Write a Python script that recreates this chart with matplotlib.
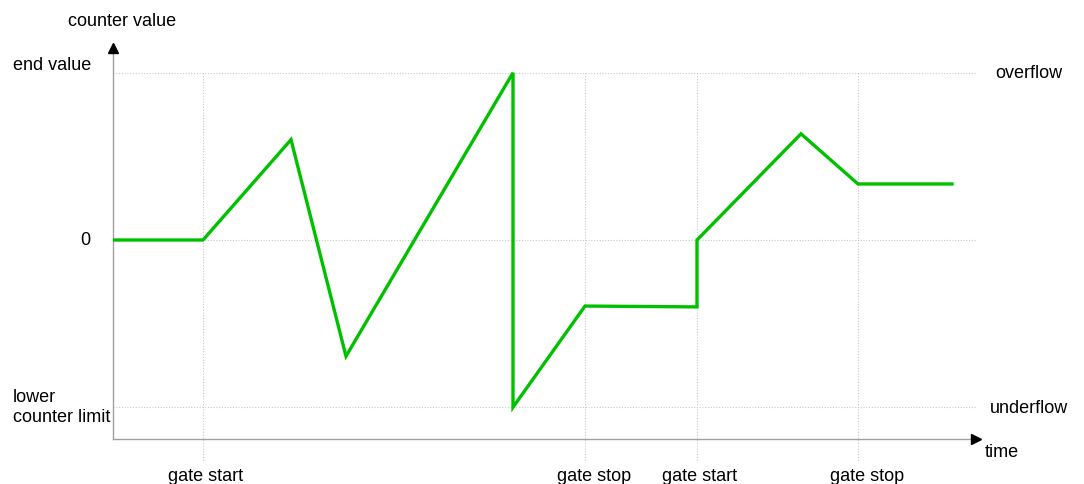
import matplotlib.pyplot as plt

plt.rcParams['font.family'] = ['Liberation Sans', 'DejaVu Sans']

# counter course over time (time in arbitrary units, value normalised to limits)
t = [0, 9.0, 17.8, 23.3, 40.0, 40.0, 47.2, 58.4, 58.4, 68.8, 74.5, 83.9]
value = [0, 0, 0.60, -0.695, 1.0, -1.0, -0.395, -0.40, 0, 0.635, 0.335, 0.335]

gates = [9.0, 47.2, 58.4, 74.5]
gate_labels = ["gate start", "gate stop", "gate start", "gate stop"]

levels = [1.0, 0.0, -1.0]
level_labels = ["end value", "0", "lower\ncounter limit"]
limit_labels = ["overflow", "", "underflow"]

W, H = 1084, 485
fig = plt.figure(figsize=(W / 100, H / 100), dpi=100)
ax = fig.add_axes([113 / W, 45 / H, (980 - 113) / W, (440 - 42) / H])
ax.set_xlim(0, 86.7)
ax.set_ylim(-1.19, 1.19)
ax.axis('off')

grid = dict(color='#c8c8c8', lw=0.8, ls=(0, (1, 1.5)), zorder=1)
for lv in levels:
    ax.plot([0, 86.4], [lv, lv], **grid)
for g in gates:
    ax.plot([g, g], [1.0, -1.33], clip_on=False, **grid)

# axes with arrow heads
ax.plot([0, 86.2], [-1.19, -1.19], color='#a0a0a0', lw=1.0, clip_on=False, zorder=2)
ax.plot([0, 0], [-1.19, 1.15], color='#a0a0a0', lw=1.0, clip_on=False, zorder=2)
ax.plot(86.3, -1.19, marker='>', color='black', ms=7, clip_on=False)
ax.plot(0, 1.15, marker='^', color='black', ms=7, clip_on=False)

ax.plot(t, value, color='#00c000', lw=2.4, solid_joinstyle='miter', zorder=3)

fs = 13
ax.text(0.9, 1.31, "counter value", ha='center', va='center', fontsize=fs, clip_on=False)
ax.text(-10.0, 1.05, level_labels[0], ha='left', va='center', fontsize=fs)
ax.text(-2.3, 0.0, level_labels[1], ha='right', va='center', fontsize=fs)
ax.text(-10.0, -0.995, level_labels[2], ha='left', va='center', fontsize=fs, linespacing=1.25)
ax.text(88.2, 1.0, limit_labels[0], ha='left', va='center', fontsize=fs)
ax.text(87.7, -1.0, limit_labels[2], ha='left', va='center', fontsize=fs)
ax.text(87.2, -1.265, "time", ha='left', va='center', fontsize=fs)
for g, lab in zip(gates, gate_labels):
    shift = 0.9 if lab == "gate stop" else 0.3
    ax.text(g + shift, -1.41, lab, ha='center', va='center', fontsize=fs)

fig.savefig('out.png', dpi=100)
